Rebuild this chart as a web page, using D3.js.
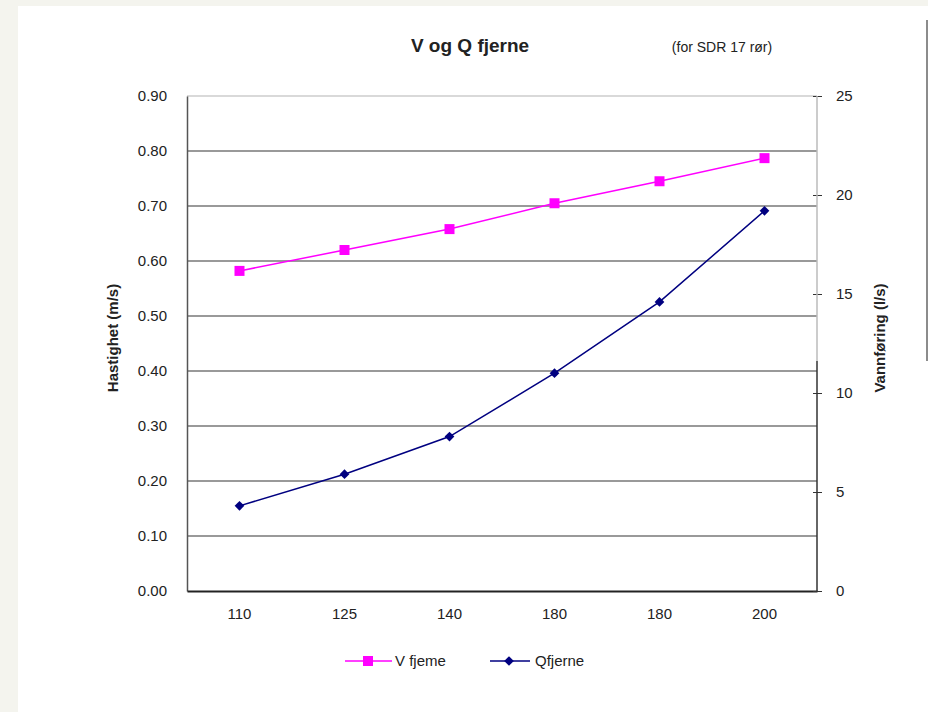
<!DOCTYPE html>
<html>
<head>
<meta charset="utf-8">
<script src="https://cdn.jsdelivr.net/npm/d3@7"></script>
<style>
  body { margin: 0; background: #f4f4ee; }
  text { font-family: Arial, "Liberation Sans", sans-serif; fill: #222; }
</style>
</head>
<body>
<div id="chart"></div>
<script>
var svgWidth = 928;
var svgHeight = 712;

// data
var categories = ["110", "125", "140", "160", "180", "200"];
var categoryLabels = ["110", "125", "140", "180", "180", "200"];
var vFjerne = [0.582, 0.62, 0.658, 0.705, 0.745, 0.787];
var qFjerne = [4.3, 5.9, 7.8, 11.0, 14.6, 19.2];
var leftTicks = [0, 0.1, 0.2, 0.3, 0.4, 0.5, 0.6, 0.7, 0.8, 0.9];
var rightTicks = [0, 5, 10, 15, 20, 25];

var margin = { top: 96, right: 111, bottom: 121, left: 187 };
var width = svgWidth - margin.left - margin.right;
var height = svgHeight - margin.top - margin.bottom;

var svg = d3.select("#chart").append("svg")
  .attr("width", svgWidth)
  .attr("height", svgHeight);

// white chart panel
svg.append("rect")
  .attr("x", 18).attr("y", 6)
  .attr("width", svgWidth - 18).attr("height", svgHeight - 6)
  .attr("fill", "#fff");

svg.append("line")
  .attr("x1", 927).attr("x2", 927).attr("y1", 20).attr("y2", 361)
  .attr("stroke", "#666").attr("stroke-width", 1.5);

var chartGroup = svg.append("g")
  .attr("transform", `translate(${margin.left}, ${margin.top})`);

var xScale = d3.scaleBand().domain(categories).range([0, width]).padding(0);
var yLeft = d3.scaleLinear().domain([0, 0.9]).range([height, 0]);
var yRight = d3.scaleLinear().domain([0, 25]).range([height, 0]);

// gridlines
chartGroup.selectAll(".grid")
  .data(leftTicks.filter(d => d > 0))
  .enter().append("line")
  .attr("x1", 0).attr("x2", width)
  .attr("y1", d => yLeft(d)).attr("y2", d => yLeft(d))
  .attr("stroke", d => d == 0.9 ? "#ccc" : "#777")
  .attr("stroke-width", 1.5);

// left axis
var leftAxis = d3.axisLeft(yLeft).tickValues(leftTicks).tickFormat(d3.format(".2f")).tickSize(0).tickPadding(20);
var gl = chartGroup.append("g").call(leftAxis);
gl.select(".domain").attr("stroke", "#555").attr("stroke-width", 1.5);
gl.selectAll("text").style("font-size", "15px").attr("fill", "#333");

// bottom axis
var bottomAxis = d3.axisBottom(xScale).tickSize(0).tickPadding(17)
  .tickFormat((d, i) => categoryLabels[i]);
var gb = chartGroup.append("g").attr("transform", `translate(0, ${height})`).call(bottomAxis);
gb.select(".domain").attr("stroke", "#222").attr("stroke-width", 2);
gb.selectAll("text").style("font-size", "15px").attr("fill", "#333");

// right axis
var rightAxis = d3.axisRight(yRight).tickValues(rightTicks).tickSize(5).tickPadding(14);
var gr = chartGroup.append("g").attr("transform", `translate(${width}, 0)`).call(rightAxis);
gr.select(".domain").remove();
gr.selectAll(".tick line").attr("x1", -4).attr("stroke", "#333");
gr.selectAll("text").style("font-size", "15px").attr("fill", "#333");
gr.append("line").attr("x1", 0).attr("x2", 0).attr("y1", 0).attr("y2", 265)
  .attr("stroke", "#bbb").attr("stroke-width", 1.5);
gr.append("line").attr("x1", 0).attr("x2", 0).attr("y1", 265).attr("y2", height)
  .attr("stroke", "#333").attr("stroke-width", 1.5);

// series
var vData = categories.map((c, i) => ({ c: c, v: vFjerne[i] }));
var qData = categories.map((c, i) => ({ c: c, v: qFjerne[i] }));
var cx = d => xScale(d.c) + xScale.bandwidth() / 2;

chartGroup.append("path").datum(vData)
  .attr("fill", "none").attr("stroke", "#ff00ff").attr("stroke-width", 1.5)
  .attr("d", d3.line().x(cx).y(d => yLeft(d.v)));
chartGroup.selectAll(".vpt").data(vData).enter().append("rect")
  .attr("x", d => cx(d) - 5).attr("y", d => yLeft(d.v) - 5)
  .attr("width", 10).attr("height", 10).attr("fill", "#ff00ff");

chartGroup.append("path").datum(qData)
  .attr("fill", "none").attr("stroke", "#000080").attr("stroke-width", 1.5)
  .attr("d", d3.line().x(cx).y(d => yRight(d.v)));
chartGroup.selectAll(".qpt").data(qData).enter().append("path")
  .attr("d", d3.symbol(d3.symbolDiamond2, 60))
  .attr("transform", d => `translate(${cx(d)}, ${yRight(d.v)})`)
  .attr("fill", "#000080");

// titles
svg.append("text").attr("x", 470).attr("y", 52).attr("text-anchor", "middle")
  .style("font-size", "19px").style("font-weight", "bold").text("V og Q fjerne");
svg.append("text").attr("x", 722).attr("y", 52).attr("text-anchor", "middle")
  .style("font-size", "14px").attr("fill", "#333").text("(for SDR 17 rør)");

svg.append("text").attr("transform", "rotate(-90)")
  .attr("x", -338).attr("y", 118).attr("text-anchor", "middle")
  .style("font-size", "15px").style("font-weight", "bold").text("Hastighet (m/s)");
svg.append("text").attr("transform", "rotate(-90)")
  .attr("x", -338).attr("y", 885).attr("text-anchor", "middle")
  .style("font-size", "15px").style("font-weight", "bold").text("Vannføring (l/s)");

// legend
var legend = svg.append("g").attr("transform", "translate(0, 661)");
legend.append("line").attr("x1", 345).attr("x2", 392).attr("stroke", "#ff00ff").attr("stroke-width", 1.5);
legend.append("rect").attr("x", 363).attr("y", -5).attr("width", 10).attr("height", 10).attr("fill", "#ff00ff");
legend.append("text").attr("x", 395).attr("y", 5).style("font-size", "15px").text("V fjeme");
legend.append("line").attr("x1", 490).attr("x2", 530).attr("stroke", "#000080").attr("stroke-width", 1.5);
legend.append("path").attr("d", d3.symbol(d3.symbolDiamond2, 60)).attr("transform", "translate(509, 0)").attr("fill", "#000080");
legend.append("text").attr("x", 535).attr("y", 5).style("font-size", "15px").text("Qfjerne");
</script>
</body>
</html>
